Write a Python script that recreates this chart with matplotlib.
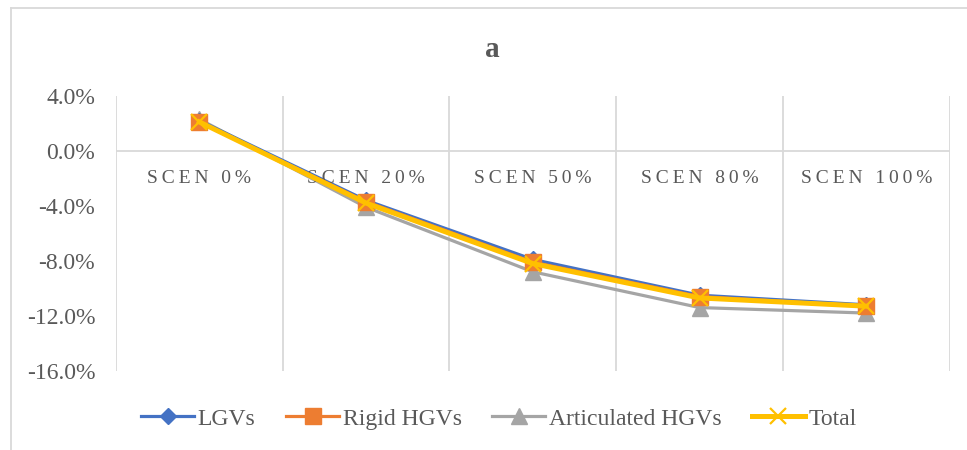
import matplotlib
matplotlib.use("Agg")
import matplotlib.pyplot as plt
from matplotlib.lines import Line2D

# data (percent change per scenario)
scenarios = ["SCEN 0%", "SCEN 20%", "SCEN 50%", "SCEN 80%", "SCEN 100%"]
lgv = [2.2, -3.6, -7.9, -10.5, -11.2]
rigid = [2.1, -3.7, -8.1, -10.6, -11.3]
artic = [2.3, -4.1, -8.8, -11.4, -11.8]
total = [2.1, -3.8, -8.2, -10.7, -11.3]
yticks = [4, 0, -4, -8, -12, -16]

plt.rcParams['font.family'] = ['Liberation Serif', 'DejaVu Serif']

fig = plt.figure(figsize=(9.67, 4.5), dpi=100)
ax = fig.add_axes([0.12, 0.176, 0.862, 0.611])

# outer chart border (top and left edges are visible)
fig.lines.append(Line2D([0.0114, 0.0114], [0.0, 0.982], transform=fig.transFigure,
                        color='#d9d9d9', linewidth=1.3))
fig.lines.append(Line2D([0.0114, 1.0], [0.982, 0.982], transform=fig.transFigure,
                        color='#d9d9d9', linewidth=1.3))

x = list(range(len(scenarios)))
ax.plot(x, lgv, color='#4472c4', linewidth=2.3, marker='D', markersize=8, label='LGVs', zorder=3)
ax.plot(x, rigid, color='#ed7d31', linewidth=2.3, marker='s', markersize=11, label='Rigid HGVs', zorder=4)
ax.plot(x, artic, color='#a5a5a5', linewidth=2.3, marker='^', markersize=12, label='Articulated HGVs', zorder=2)
ax.plot(x, total, color='#ffc000', linewidth=3.6, marker='x', markersize=11, markeredgewidth=1.6,
        label='Total', zorder=5)

ax.set_xlim(-0.5, 4.5)
ax.set_ylim(-16, 4)
ax.set_yticks(yticks)
ax.set_yticklabels([f"{v:.1f}%" for v in yticks], fontsize=17, color='#595959')
ax.set_xticks([])

# vertical category gridlines and the zero (category) axis line
for b in [i + 0.5 for i in range(-1, 5)]:
    ax.axvline(b, color='#d9d9d9', linewidth=1.3, zorder=0)
ax.axhline(0, color='#d9d9d9', linewidth=1.3, zorder=0)

# category labels sit just below the zero line, letter-spaced
for i, s in enumerate(scenarios):
    ax.text(i, -2.0, "\u2009".join(s), ha='center', va='center', fontsize=14, color='#595959')

for sp in ax.spines.values():
    sp.set_visible(False)
ax.tick_params(axis='y', length=0, pad=15)

fig.text(0.509, 0.891, "a", ha='center', va='center', fontsize=21, fontweight='bold', color='#595959')

fig.legend(loc='center', bbox_to_anchor=(0.516, 0.069), ncol=4, frameon=False, fontsize=17,
           handlelength=2.25, handletextpad=0.15, columnspacing=1.29, labelcolor='#595959')

fig.savefig("out.png", dpi=100)
